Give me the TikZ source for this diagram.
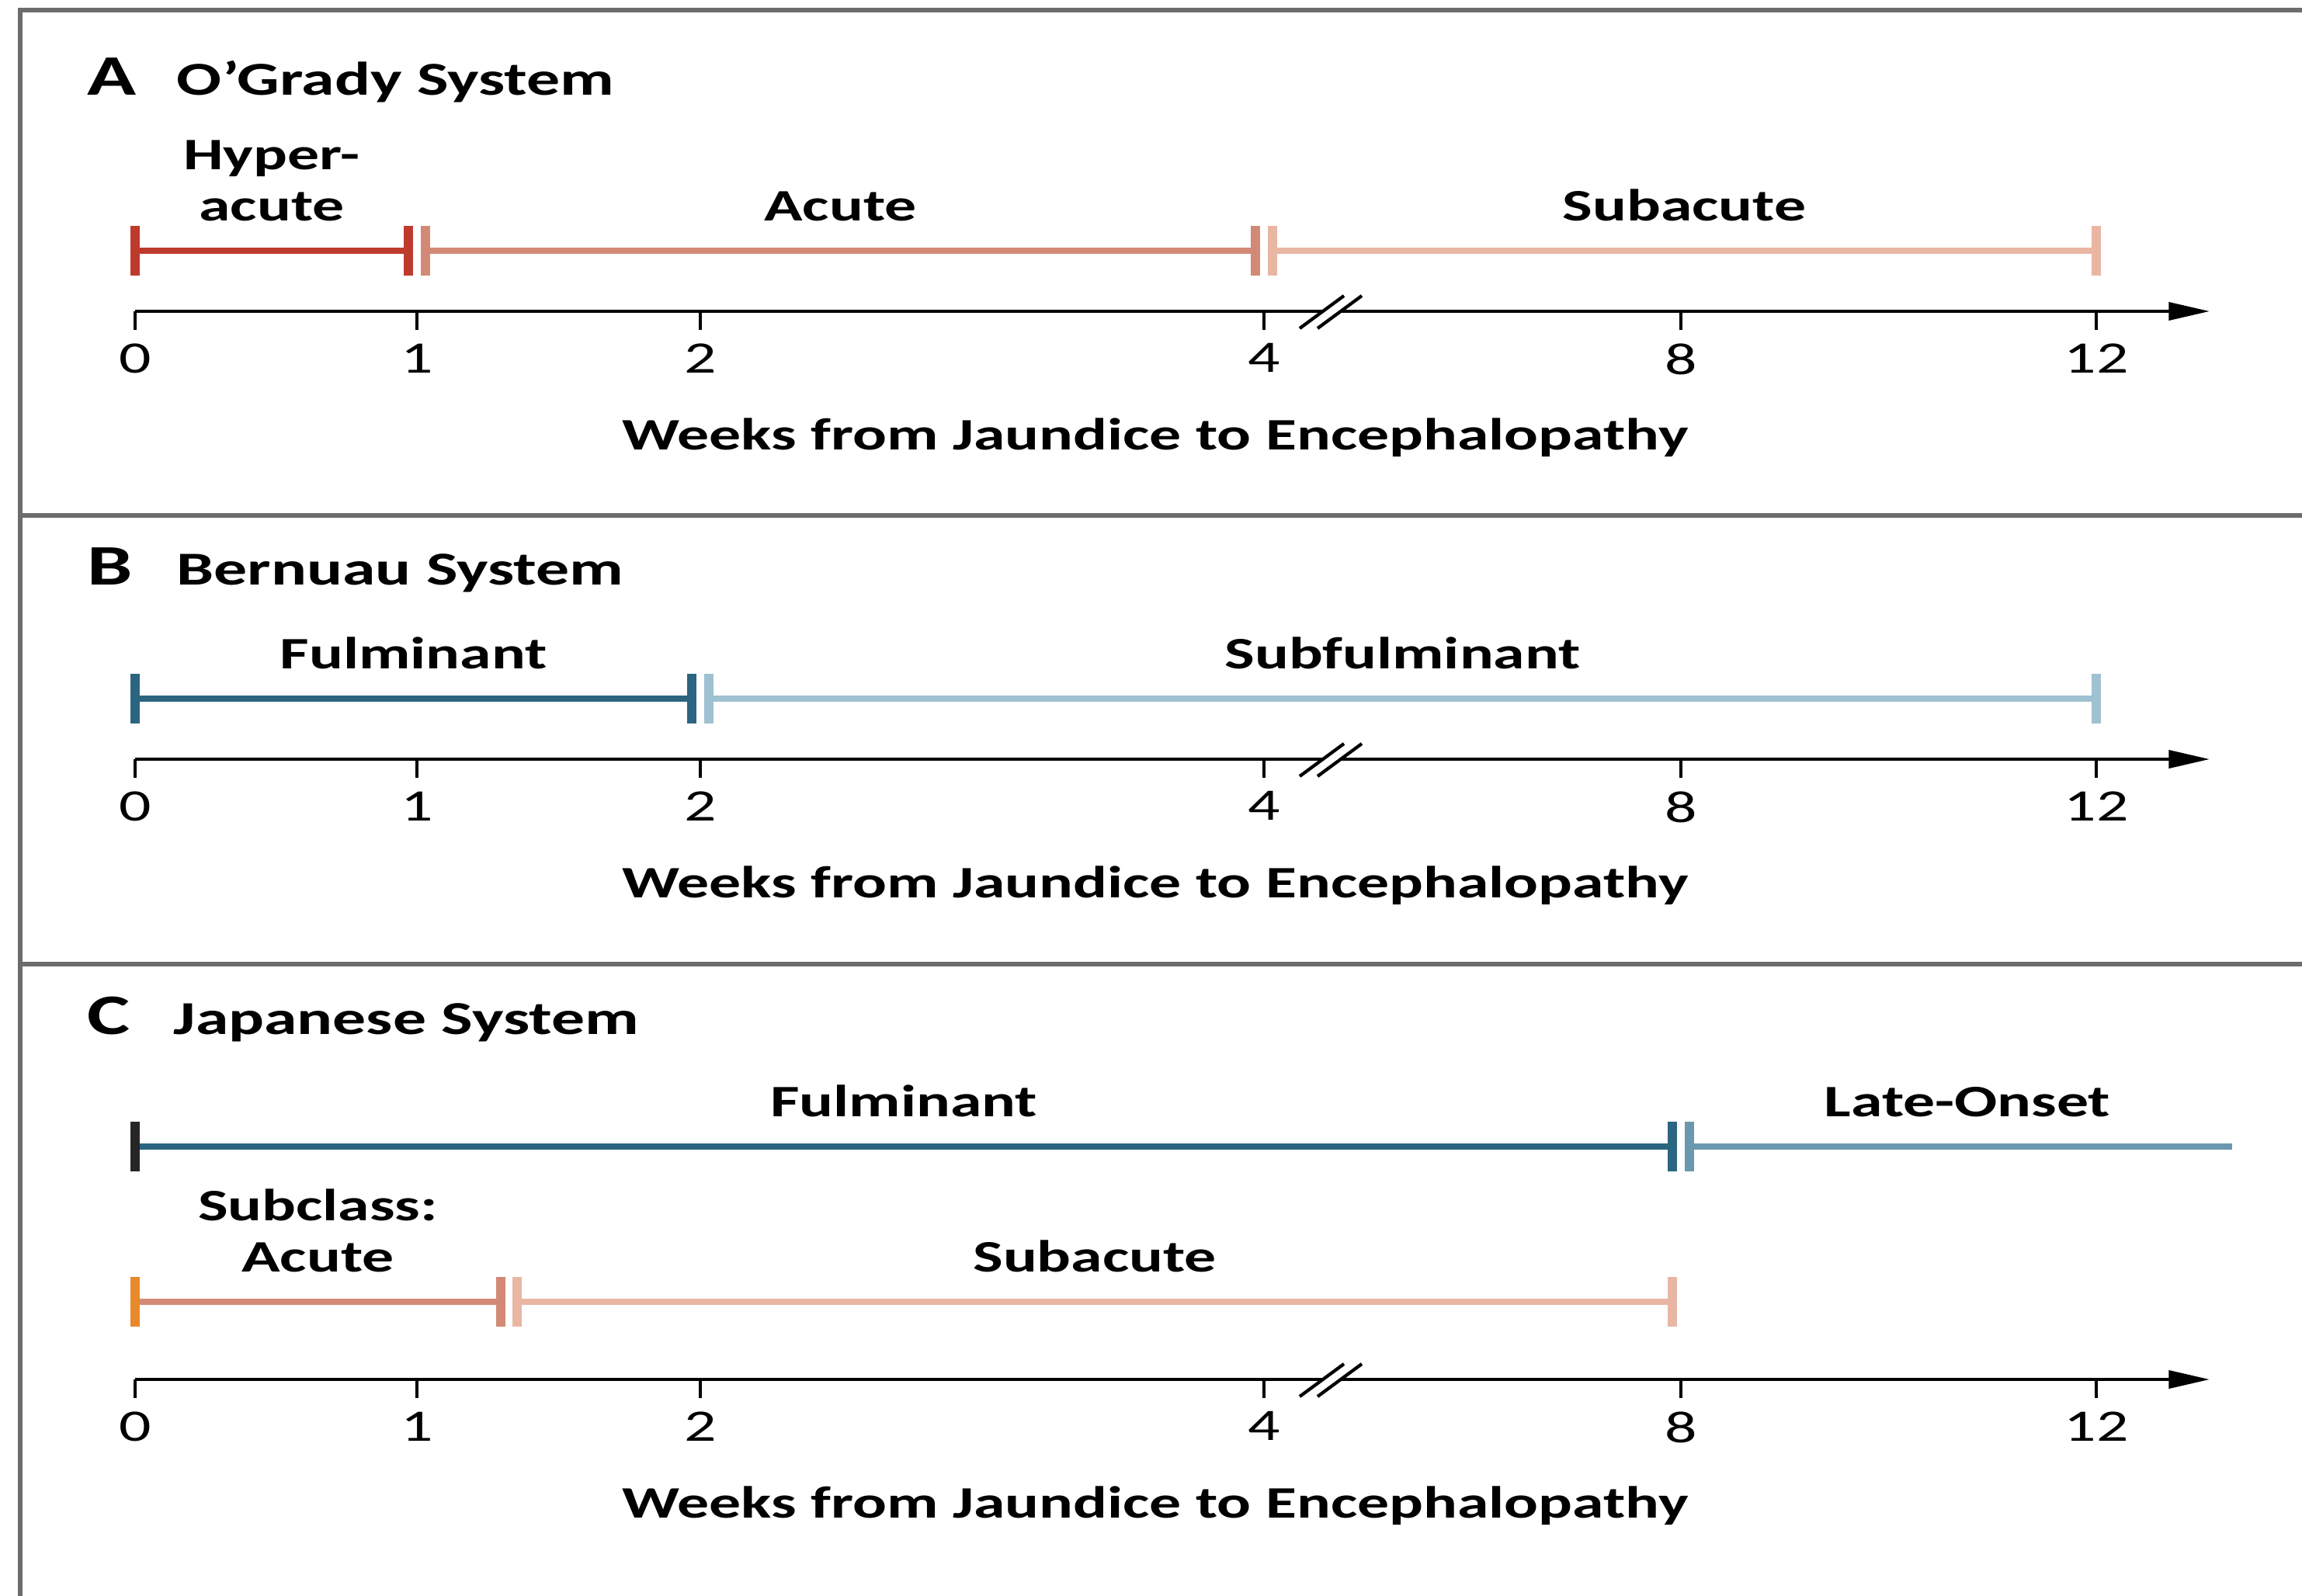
\documentclass[tikz,border=0pt]{standalone}
\usepackage{fontspec}
\setmainfont{Carlito}[FakeStretch=1.41]
\usetikzlibrary{arrows.meta}
\definecolor{framegray}{RGB}{108,108,108}
\definecolor{hyperred}{RGB}{190,58,44}
\definecolor{acutesalmon}{RGB}{210,138,119}
\definecolor{subpeach}{RGB}{233,182,164}
\definecolor{fulteal}{RGB}{43,101,128}
\definecolor{subfulblue}{RGB}{159,193,209}
\definecolor{latesteel}{RGB}{106,152,174}
\definecolor{startorange}{RGB}{232,137,42}
\tikzset{>={Triangle[length=15pt,width=6.5pt]},
    frameline/.style={line width=1.6pt,draw=framegray},
    bar/.style={line width=2.3pt},
    endtick/.style={line width=3.4pt},
    axisline/.style={line width=1.2pt},
    barlabel/.style={font=\fontsize{16.5}{18.8}\selectfont\bfseries,align=center,inner sep=0pt},
    weeknum/.style={font=\fontsize{16.5}{18.8}\selectfont,inner sep=0pt,anchor=north},
    paneltitle/.style={font=\fontsize{17.3}{19.5}\selectfont\bfseries,inner sep=0pt,anchor=base west},
    panelletter/.style={font=\fontsize{21}{24}\selectfont\bfseries,inner sep=0pt,anchor=base west}}
\newcommand\phase[6]{
    \draw[bar,#5] (#2,#4) -- (#3,#4);
    \draw[endtick,#5] (#2,#4-0.32) -- (#2,#4+0.32);
    \draw[endtick,#5] (#3,#4-0.32) -- (#3,#4+0.32);
    \node[barlabel,above=0.37cm] (#1) at ({(#2+#3)/2},#4) {#6};
}
\newcommand\weekaxis[2]{
    \draw[axisline] (1.74,#2) -- (17.04,#2);
    \draw[axisline,->] (17.27,#2) -- (28.46,#2);
    \draw[axisline] (16.74,#2+0.22) -- (17.31,#2-0.20);
    \draw[axisline] (16.97,#2+0.22) -- (17.54,#2-0.20);
    \foreach \pos/\wk in {1.74/0,5.37/1,9.02/2,16.28/4,21.65/8,27.00/12}{
        \draw[axisline] (\pos,#2) -- (\pos,#2+0.24);
        \node[weeknum] (#1\wk) at (\pos,#2+0.41) {\wk};
    }
    \node[barlabel,anchor=base] (#1label) at (14.88,#2+1.78) {Weeks from Jaundice to Encephalopathy};
}

\begin{document}
\begin{tikzpicture}[x=1cm,y=-1cm]
    \useasboundingbox (0,0) rectangle (29.65,20.55);
    \draw[frameline] (0.26,20.7) -- (0.26,0.13) -- (29.8,0.13);
    \draw[frameline] (0.26,6.64) -- (29.8,6.64);
    \draw[frameline] (0.26,12.42) -- (29.8,12.42);

    \node[panelletter] (letA) at (1.12,1.23) {A};
    \node[paneltitle] (titleA) at (2.27,1.23) {O’Grady System};
    \phase{hyperacute}{1.74}{5.26}{3.23}{hyperred}{Hyper-\\acute}
    \phase{acuteA}{5.48}{16.17}{3.23}{acutesalmon}{Acute}
    \phase{subacuteA}{16.39}{27.00}{3.23}{subpeach}{Subacute}
    \weekaxis{axA}{4.01}

    \node[panelletter] (letB) at (1.12,7.53) {B};
    \node[paneltitle] (titleB) at (2.27,7.53) {Bernuau System};
    \phase{fulminantB}{1.74}{8.91}{9.00}{fulteal}{Fulminant}
    \phase{subfulminant}{9.13}{27.00}{9.00}{subfulblue}{Subfulminant}
    \weekaxis{axB}{9.78}

    \node[panelletter] (letC) at (1.12,13.32) {C};
    \node[paneltitle] (titleC) at (2.23,13.32) {Japanese System};
    \phase{fulminantC}{1.74}{21.54}{14.77}{fulteal}{Fulminant}
    \draw[endtick,black!85] (1.74,14.45) -- (1.74,15.09);
    \draw[bar,latesteel] (21.76,14.77) -- (28.75,14.77);
    \draw[endtick,latesteel] (21.76,14.45) -- (21.76,15.09);
    \node[barlabel,above=0.37cm] (lateonset) at (25.34,14.77) {Late-Onset};
    \phase{acuteC}{1.74}{6.45}{16.77}{acutesalmon}{Subclass:\\Acute}
    \draw[endtick,startorange] (1.74,16.45) -- (1.74,17.09);
    \phase{subacuteC}{6.66}{21.54}{16.77}{subpeach}{Subacute}
    \weekaxis{axC}{17.77}
\end{tikzpicture}
\end{document}
